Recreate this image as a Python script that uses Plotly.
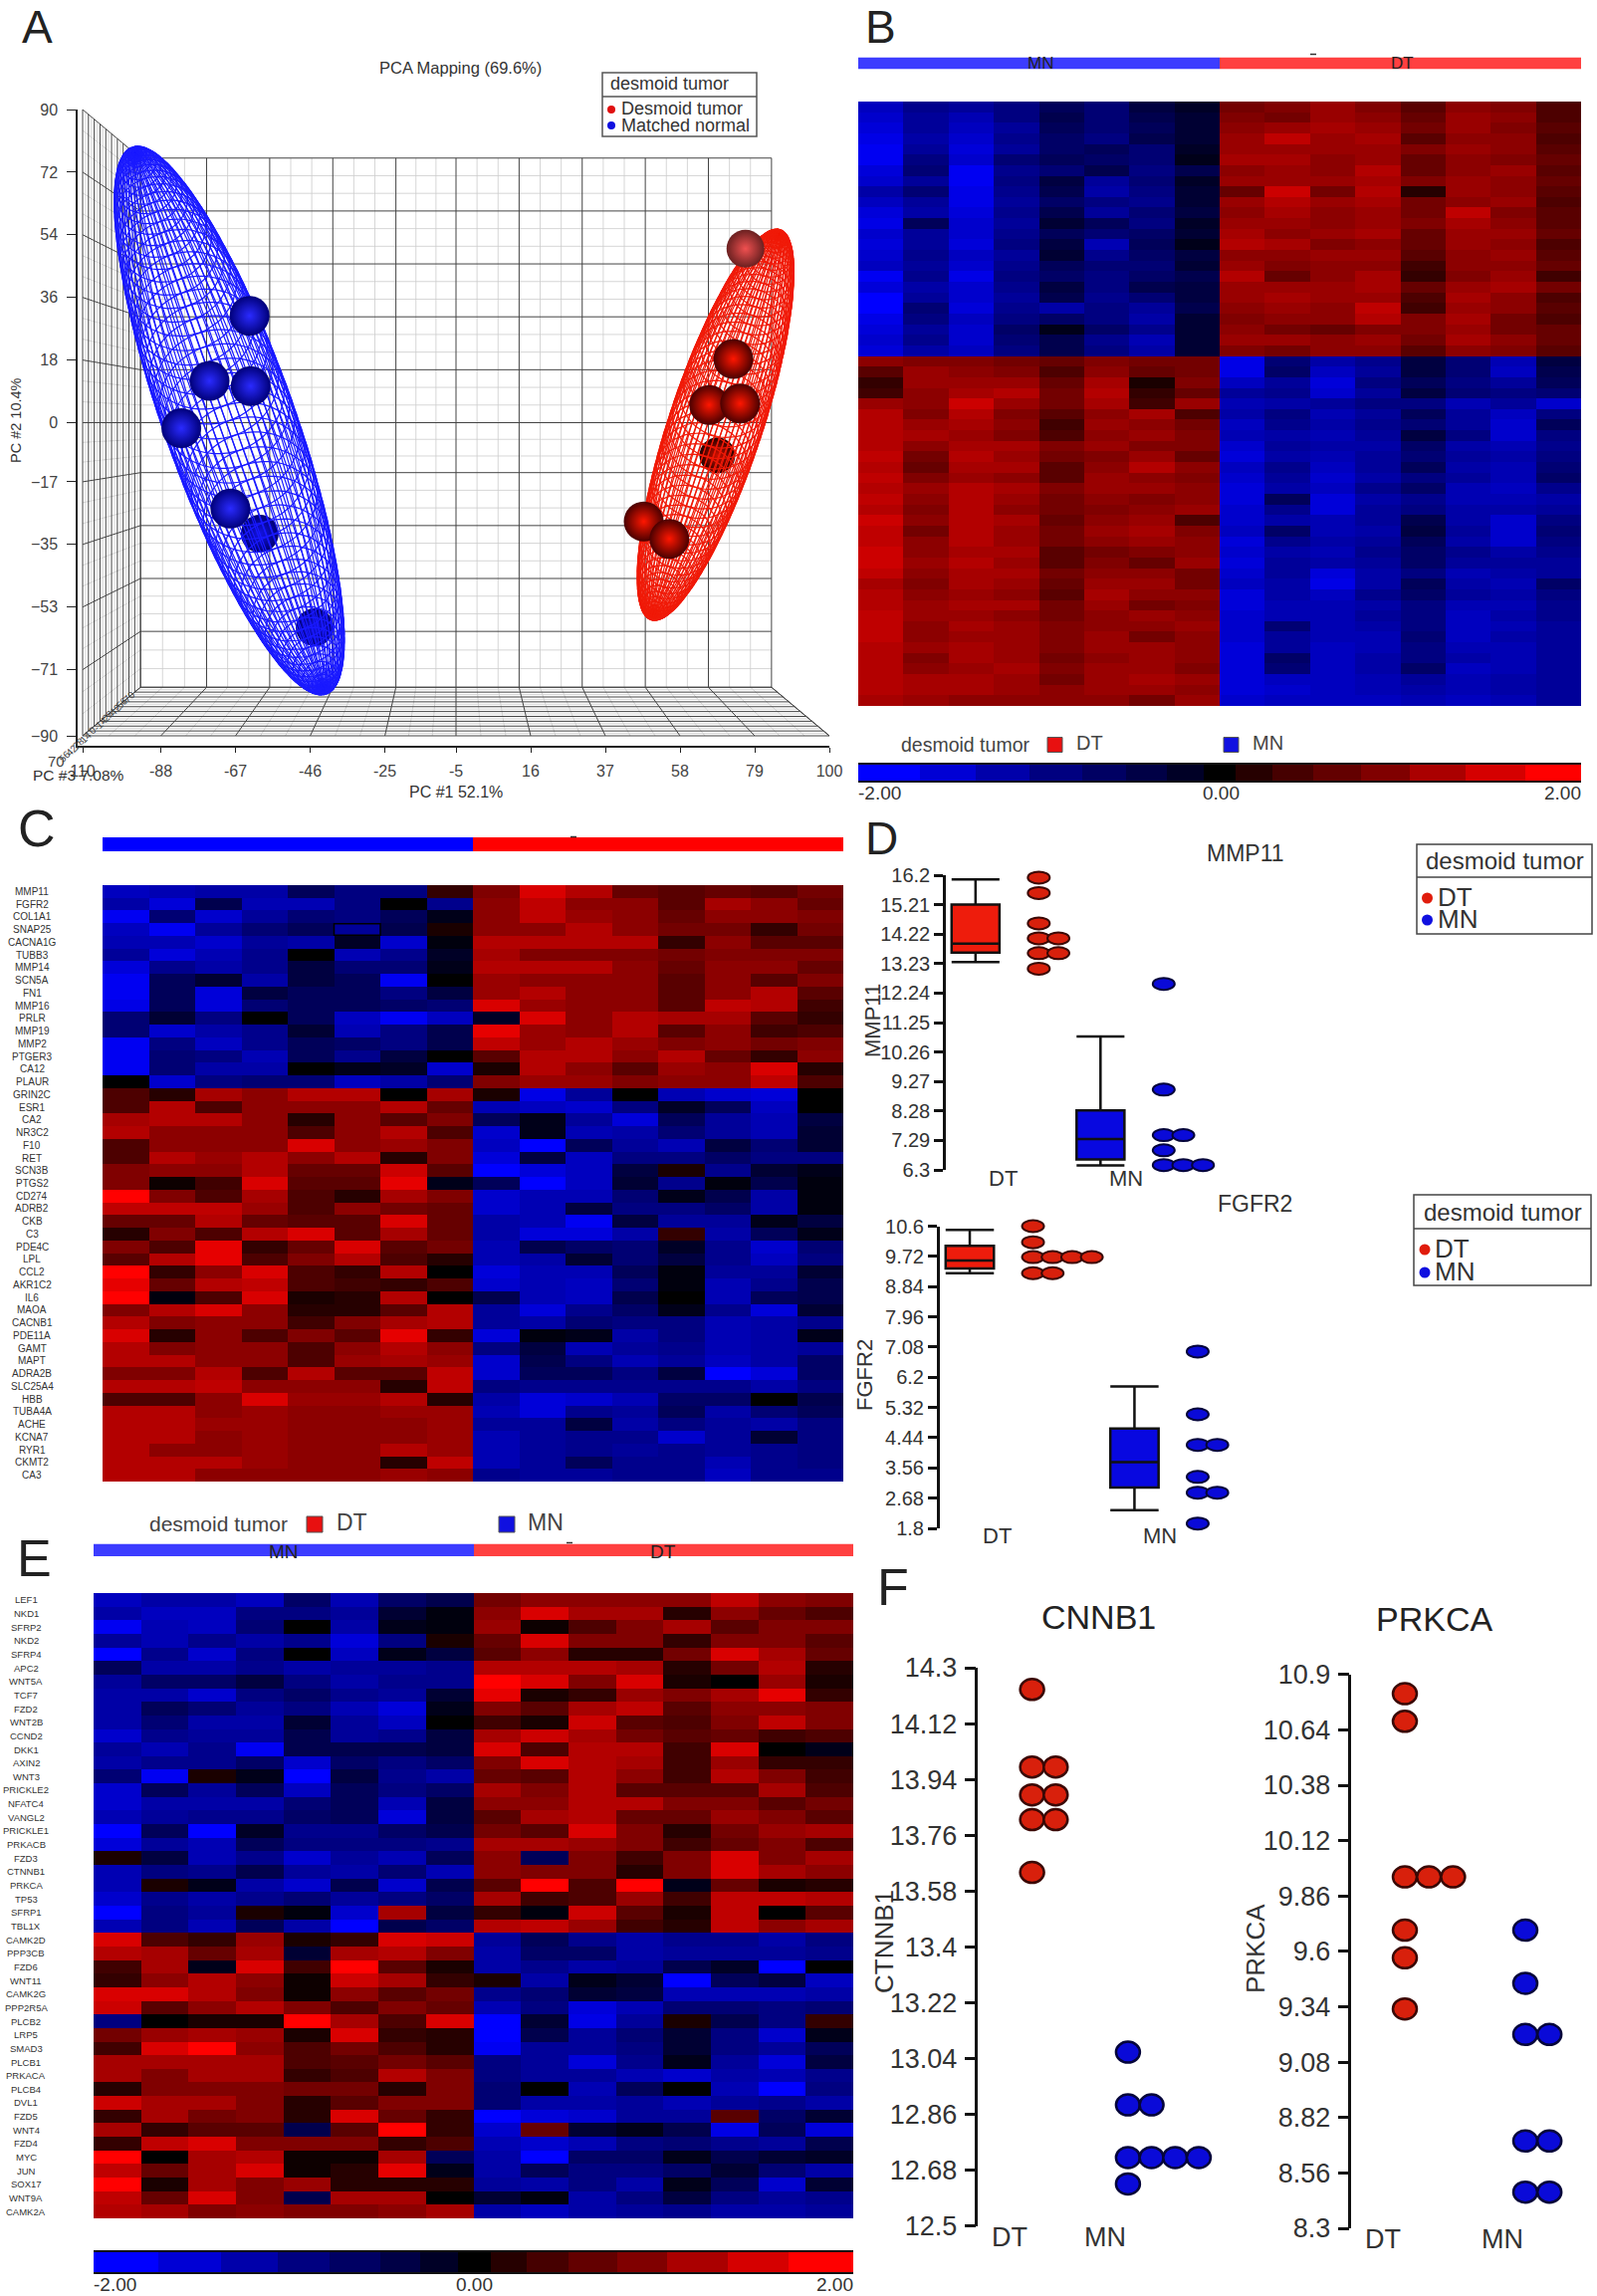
import math
import plotly.graph_objects as go

W, H = 1604, 2306
INK = "#333333"
FONT = "Liberation Sans, Arial, sans-serif"
HEAT = [[0, "rgb(0,0,255)"], [0.5, "rgb(0,0,0)"], [1, "rgb(255,0,0)"]]

# ---------- Panel A ----------
pca_x_ticks = [-110, -88, -67, -46, -25, -5, 16, 37, 58, 79, 100]
pca_y_ticks = [90, 72, 54, 36, 18, 0, -17, -35, -53, -71, -90]
pca_z_ticks = ["70", "56", "42", "28", "14", "0", "-14", "-28", "-42", "-56", "-70"]
blue_front_x = [-63.05, -74.3, -62.75, -82.25, -68.45]
blue_front_y = [30.7, 12.0, 10.5, -1.6, -24.7]
blue_back_x = [-60.2, -44.75]
blue_back_y = [-31.9, -58.8]
red_front_x = [73.0, 66.2, 74.9, 47.8, 55.0]
red_front_y = [18.3, 5.1, 5.5, -28.4, -33.4]
red_pale_x = [76.4]
red_pale_y = [50.0]
red_back_x = [68.5]
red_back_y = [-9.4]
blue_ellipsoid = dict(center=(-68.75, 0.6), major=(-26.6, 76.8), minor=18.5)
red_ellipsoid = dict(center=(68.0, -0.6), major=(17.7, 54.8), minor=13.2)

# ---------- Panel B ----------
b_rows_up = [
[-1.5,-1.1,-1.2,-1.0,-.7,-.9,-.5,-.3,.9,1.0,1.2,1.0,.7,1.1,1.0,.6],
[-1.6,-1.2,-1.4,-1.0,-.6,-.9,-.6,-.4,1.0,.9,1.2,1.1,.8,1.2,1.1,.6],
[-1.7,-1.2,-1.5,-1.2,-.7,-.9,-.7,-.4,1.1,1.2,1.3,1.2,.9,1.2,1.0,.7],
[-1.8,-1.3,-1.6,-1.1,-.8,-1.0,-.6,-.4,1.2,1.5,1.2,1.3,.7,1.1,1.1,.6],
[-1.9,-1.2,-1.7,-1.2,-.8,-.7,-.9,-.3,1.2,1.2,1.2,1.2,1.0,1.2,1.1,.7],
[-1.9,-1.0,-1.6,-.9,-.7,-.8,-.9,-.2,1.3,1.3,1.1,1.2,.8,1.1,1.0,.8],
[-1.7,-.9,-1.9,-1.1,-.9,-.6,-1.0,-.6,1.1,1.2,1.1,1.4,.8,1.1,1.2,.7],
[-1.6,-1.2,-1.9,-1.0,-.5,-1.2,-.9,-.3,1.2,1.2,1.2,1.3,1.0,1.2,1.1,.8],
[-1.3,-.9,-1.8,-1.1,-.6,-1.3,-1.0,-.4,.8,1.6,.9,1.4,.3,1.2,1.1,.7],
[-1.5,-1.2,-1.8,-1.2,-.8,-1.0,-1.1,-.4,1.2,1.4,1.2,1.3,.9,1.1,1.2,.6],
[-1.7,-1.3,-1.7,-1.1,-.6,-1.2,-.9,-.5,1.1,1.3,1.1,1.2,.9,1.5,1.0,.7],
[-1.8,-.7,-1.6,-1.2,-.4,-.7,-1.0,-.3,1.2,1.2,1.1,1.2,1.0,1.3,1.1,.7],
[-1.6,-1.2,-1.6,-1.1,-.7,-.9,-.8,-.4,1.3,1.1,1.2,1.3,.8,1.2,1.2,.8],
[-1.7,-1.2,-1.7,-1.0,-.5,-1.4,-.7,-.2,1.4,1.3,1.0,1.1,.8,1.2,1.1,.6],
[-1.6,-1.1,-1.5,-1.2,-.4,-1.1,-.8,-.5,1.1,1.1,1.2,1.2,.7,1.1,1.2,.7],
[-1.5,-1.2,-1.6,-1.1,-.7,-.9,-.9,-.4,1.2,1.0,1.1,1.1,.5,1.1,1.1,.8],
[-1.9,-1.1,-1.8,-1.0,-.8,-1.0,-.8,-.6,1.4,.8,1.1,1.3,.4,1.0,1.2,.5],
[-1.7,-1.3,-1.6,-1.1,-.5,-1.0,-.6,-.5,1.2,1.2,1.2,1.3,.8,1.2,1.3,.9],
[-2.0,-1.2,-1.6,-1.2,-.6,-1.1,-.9,-.5,1.2,1.3,1.2,1.2,.6,1.3,1.1,.6],
[-2.0,-.9,-1.7,-1.1,-1.3,-1.0,-1.2,-.6,1.1,1.2,1.1,1.5,.5,1.2,1.1,.7],
[-1.8,-1.0,-1.5,-1.0,-.8,-1.0,-1.3,-.4,1.0,1.1,1.1,1.4,1.0,1.3,.9,.6],
[-1.7,-1.2,-1.6,-.8,-.2,-.8,-1.1,-.4,1.1,.9,.8,1.0,1.0,1.2,.9,.8],
[-1.6,-1.1,-1.6,-.9,-.6,-1.1,-1.4,-.4,1.2,1.2,1.1,1.2,.9,1.3,1.1,.8],
[-1.7,-1.3,-1.5,-1.0,-.6,-1.0,-1.3,-.4,1.0,.9,1.1,1.1,.7,1.1,1.0,.7],
]
b_rows_down = [
[1.1,1.0,1.0,.9,.8,1.0,.9,.9,-1.8,-.9,-1.3,-1.1,-.5,-.9,-1.4,-.5],
[.7,1.2,1.1,1.0,.6,1.1,.8,.9,-1.8,-.8,-1.5,-1.2,-.5,-.9,-1.5,-.6],
[.4,1.2,1.2,1.2,.8,1.3,.2,1.0,-1.5,-1.2,-1.7,-1.0,-.7,-1.0,-1.2,-.7],
[.5,1.1,1.3,1.4,.9,1.4,.4,.8,-1.2,-1.1,-1.6,-1.2,-.5,-.9,-1.0,-.9],
[1.2,1.1,1.6,1.2,.9,1.3,.5,1.2,-1.4,-1.3,-1.2,-1.0,-1.0,-1.4,-1.2,-1.6],
[1.4,1.0,1.4,1.0,.7,1.1,1.3,.6,-1.3,-1.0,-1.4,-1.2,-.7,-1.2,-1.5,-1.0],
[1.4,1.2,1.3,1.1,.5,1.2,1.1,.9,-1.5,-1.1,-1.3,-1.1,-.9,-1.2,-1.6,-.7],
[1.4,1.3,1.2,1.0,.6,1.1,1.2,1.0,-1.4,-1.3,-1.4,-1.2,-.5,-1.0,-1.6,-1.0],
[1.4,1.1,1.3,1.3,1.0,1.2,1.0,1.0,-1.6,-1.2,-1.3,-1.3,-.8,-1.3,-1.4,-1.1],
[1.5,.9,1.4,1.2,.9,1.0,1.2,.8,-1.7,-1.3,-1.4,-1.2,-.9,-1.2,-1.3,-1.0],
[1.4,.8,1.3,1.3,.7,1.1,1.4,1.1,-1.5,-1.1,-1.5,-1.2,-.7,-1.3,-1.4,-.9],
[1.5,1.0,1.2,1.1,.7,1.2,1.1,1.0,-1.6,-1.2,-1.6,-1.3,-1.0,-1.2,-1.4,-.8],
[1.4,1.2,1.4,1.3,1.0,1.2,1.2,1.1,-1.7,-1.3,-1.5,-1.1,-.8,-1.4,-1.5,-1.1],
[1.5,1.1,1.4,1.2,.9,1.1,1.0,1.1,-1.7,-.7,-1.7,-1.3,-1.1,-1.4,-1.4,-1.3],
[1.4,1.0,1.4,1.1,.9,1.0,1.1,1.2,-1.6,-1.1,-1.7,-1.2,-1.0,-1.3,-1.3,-1.2],
[1.6,1.1,1.4,1.3,.8,1.1,1.2,.6,-1.6,-1.3,-1.4,-1.2,-.6,-1.3,-1.6,-1.0],
[1.5,.9,1.4,1.2,.9,1.2,1.3,1.0,-1.5,-.8,-1.4,-1.3,-.5,-1.2,-1.6,-.9],
[1.5,1.1,1.4,1.2,.9,1.1,1.2,1.1,-1.7,-1.1,-1.3,-1.2,-.7,-1.3,-1.6,-1.0],
[1.6,1.1,1.3,1.3,.7,.9,1.0,1.1,-1.6,-1.3,-1.4,-1.1,-.8,-1.1,-1.3,-1.1],
[1.6,1.2,1.4,1.2,.7,1.0,.8,1.2,-1.7,-1.2,-1.3,-1.2,-.8,-1.2,-1.2,-1.2],
[1.5,1.1,1.3,1.3,.9,1.1,1.1,.9,-1.6,-1.2,-1.7,-1.3,-1.0,-1.4,-1.3,-1.2],
[1.3,1.0,1.3,1.2,.8,1.2,1.2,.9,-1.5,-1.3,-1.8,-1.3,-.7,-1.3,-1.4,-.8],
[1.4,1.1,1.2,1.1,.7,1.3,1.1,1.1,-1.7,-1.3,-1.5,-1.1,-.8,-1.2,-1.3,-1.0],
[1.4,1.2,1.3,1.3,.9,1.2,.9,1.0,-1.7,-1.4,-1.4,-1.3,-1.0,-1.4,-1.4,-1.1],
[1.5,1.2,1.2,1.1,.9,1.1,1.2,1.1,-1.6,-1.4,-1.4,-1.2,-1.0,-1.5,-1.3,-1.1],
[1.5,1.1,1.3,1.2,1.0,1.1,1.1,1.2,-1.6,-.9,-1.4,-1.3,-1.0,-1.5,-1.4,-1.2],
[1.5,1.1,1.2,1.2,1.0,1.2,.9,1.1,-1.6,-1.2,-1.4,-1.4,-.9,-1.5,-1.3,-1.2],
[1.4,1.2,1.3,1.2,1.0,1.2,1.2,1.1,-1.7,-1.2,-1.5,-1.4,-1.0,-1.4,-1.4,-1.2],
[1.4,1.0,1.3,1.2,.9,1.1,1.2,1.1,-1.7,-.8,-1.5,-1.3,-1.0,-1.3,-1.4,-1.2],
[1.4,1.1,1.2,1.3,1.0,1.2,1.2,1.0,-1.7,-.9,-1.5,-1.3,-.8,-1.5,-1.4,-1.2],
[1.4,1.3,1.3,1.2,.9,1.2,1.3,1.2,-1.7,-1.5,-1.5,-1.4,-1.2,-1.4,-1.3,-1.2],
[1.4,1.3,1.3,1.2,1.1,1.2,1.2,1.1,-1.7,-1.6,-1.5,-1.4,-1.3,-1.4,-1.3,-1.2],
[1.3,1.2,1.1,1.1,1.1,1.1,.9,1.2,-1.6,-1.5,-1.5,-1.5,-1.4,-1.5,-1.4,-1.2],
]
sample_ids = ["MN1","MN2","MN3","MN4","MN5","MN6","MN7","MN8","DT1","DT2","DT3","DT4","DT5","DT6","DT7","DT8"]
group_labels = ["MN", "DT"]

# ---------- Panel C ----------
c_genes = ["MMP11","FGFR2","COL1A1","SNAP25","CACNA1G","TUBB3","MMP14","SCN5A","FN1","MMP16","PRLR","MMP19","MMP2","PTGER3","CA12","PLAUR",
"GRIN2C","ESR1","CA2","NR3C2","F10","RET","SCN3B","PTGS2","CD274","ADRB2","CKB","C3","PDE4C","LPL","CCL2","AKR1C2","IL6","MAOA","CACNB1",
"PDE11A","GAMT","MAPT","ADRA2B","SLC25A4","HBB","TUBA4A","ACHE","KCNA7","RYR1","CKMT2","CA3"]
c_values = [
[-1.5,-1.4,-1.3,-1.3,-.7,-1.0,-1.0,.4,1.0,1.7,1.4,.8,.7,.8,.7,.9],
[-1.3,-1.7,-.6,-1.4,-1.4,-1.0,0,-1.1,1.1,1.5,1.1,1.1,.7,1.3,1.1,.8],
[-1.9,-.9,-1.6,-1.2,-.9,-1.0,-.7,-.2,1.1,1.5,1.2,1.1,.8,1.1,1.1,1.0],
[-1.5,-1.9,-1.2,-.9,-.7,-1.2,-.6,.2,1.1,1.1,1.4,1.1,.9,.9,.4,.9],
[-1.4,-1.4,-1.6,-1.2,-1.3,-.3,-1.6,-.1,1.4,1.4,1.4,1.4,.4,1.1,.7,.7],
[-1.2,-1.7,-1.4,-1.1,0,-1.4,-1.1,-.3,1.3,1.0,1.0,1.0,.9,1.0,1.0,1.0],
[-1.7,-1.1,-1.3,-1.1,-.5,-.9,-.9,-.2,1.4,1.4,1.4,1.1,.8,1.1,1.1,.8],
[-1.9,-.7,-.4,-1.3,-.5,-.7,-1.9,0,1.2,1.1,1.1,1.1,.7,1.1,.7,1.0],
[-1.9,-.7,-1.7,-.5,-.7,-.7,-1.0,-.5,1.2,1.4,1.1,1.1,.7,1.1,1.4,.7],
[-1.8,-.7,-1.7,-.9,-.7,-.7,-.8,-.9,1.7,1.2,1.1,1.1,.7,1.5,1.4,.5],
[-.9,-.4,-1.0,0,-.7,-1.5,-1.9,-1.5,-.3,1.7,1.1,1.4,1.3,1.3,.7,.4],
[-.9,-1.6,-1.3,-1.1,-.4,-1.4,-1.0,-.6,1.8,1.2,1.1,1.4,.7,1.1,.5,.6],
[-1.9,-1.0,-1.5,-1.1,-.7,-.8,-1.0,-.6,1.5,1.2,1.4,1.2,1.0,1.1,.9,1.0],
[-1.9,-.9,-1.0,-1.4,-.7,-1.1,-.5,0,.7,1.4,1.4,1.1,1.4,.8,.4,1.1],
[-1.9,-.9,-1.3,-1.3,0,-.2,-.3,-1.6,.2,1.4,1.1,.7,1.2,1.1,1.7,.3],
[0,-1.6,-1.0,-.9,-.9,-1.5,-1.3,-.9,1.0,1.2,1.2,1.0,1.1,1.1,1.5,.6],
[.6,.3,1.3,1.1,1.4,1.4,0,1.3,.2,-1.8,-1.2,0,-1.4,-1.6,-1.7,0],
[.6,1.4,.6,1.1,1.1,1.1,1.4,.8,-1.4,-1.5,-1.6,-1.0,-.3,-.7,-1.5,0],
[1.3,1.4,1.4,1.1,.3,1.1,.7,1.0,-.7,-.2,-1.2,-1.7,-.7,-1.2,-1.4,-.5],
[1.4,1.1,1.1,1.1,.6,1.1,1.4,.6,-1.6,-.2,-1.4,-1.3,-.9,-1.2,-1.4,-.4],
[.6,1.1,1.1,1.1,1.7,1.1,1.2,1.0,-1.5,-2,-.7,-1.2,-1.4,-.5,-.9,-.4],
[.6,1.4,1.2,1.4,1.1,1.4,.3,1.0,-1.7,-.5,-1.5,-1.0,-1.0,-.8,-1.0,-1.0],
[1.0,1.1,1.1,1.4,.8,.8,1.6,.7,-2,-1.7,-1.5,-.5,.2,-1.1,-.4,-.2],
[1.0,.1,.5,1.7,.7,.7,1.8,-.2,-.7,-2,-1.5,-.4,-1.1,-.1,-.6,-.1],
[2,1.0,.6,1.3,.6,.3,1.3,1.0,-1.6,-1.4,-1.4,-.9,-.2,-.6,-1.3,-.1],
[1.5,1.5,1.5,1.2,.6,1.1,.9,.8,-1.6,-1.4,-.5,-1.0,-1.0,-.8,-1.3,-.1],
[.8,.8,1.4,.8,.7,.7,1.7,.8,-1.3,-1.4,-1.9,-.5,-1.2,-1.2,-.2,-.5],
[.3,1.0,.6,1.4,1.7,.7,1.3,.8,-1.3,-1.7,-1.7,-1.3,.4,-1.3,-.7,-.2],
[1.0,.6,1.8,.4,.8,1.7,.7,.9,-1.4,-.6,-.8,-.9,-.3,-1.1,-1.6,-.9],
[.7,1.4,1.8,.6,1.0,1.4,.6,.3,-1.4,-1.3,-.4,-.9,-.5,-1.1,-1.5,-1.0],
[2,.4,1.1,1.7,.6,.4,1.4,0,-1.7,-1.4,-1.4,-.7,-.1,-1.2,-1.2,-.4],
[1.8,.8,1.4,1.5,.6,.5,.4,.6,-1.6,-1.4,-1.5,-.9,-.1,-1.4,-1.1,-.6],
[2,-.1,.6,1.7,.2,.3,1.4,0,-.6,-1.4,-1.5,-.6,0,-1.4,-.7,-.6],
[1.0,1.4,1.7,1.1,.3,.3,.7,1.4,-1.2,-1.7,-1.1,-.8,-.2,-1.1,-1.7,-.4],
[1.4,1.0,1.1,1.1,.5,1.0,1.3,1.4,-1.2,-1.3,-.9,-1.0,-1.0,-1.4,-1.3,-1.1],
[1.7,.3,1.1,.6,1.0,.7,1.8,.4,-1.7,-.1,-.2,-1.3,-1.0,-1.4,-1.3,-.2],
[1.4,1.0,1.1,1.1,.6,1.1,1.4,1.1,-1.0,-.5,-1.4,-1.2,-1.1,-1.4,-1.3,-1.2],
[1.4,1.4,1.1,1.1,.6,1.2,1.3,1.2,-1.6,-.6,-1.0,-1.4,-1.2,-1.5,-1.3,-.8],
[1.0,1.0,1.4,.6,1.4,.7,.7,1.5,-1.6,-.7,-.7,-1.0,-.5,-2,-1.7,-.8],
[1.4,1.4,1.5,1.1,1.1,1.1,.3,1.5,-1.0,-1.1,-1.1,-1.1,-1.1,-1.1,-1.3,-1.0],
[.6,.6,1.1,1.7,1.2,1.2,1.4,.3,-1.3,-1.7,-1.6,-1.4,-.8,-.8,0,-.6],
[1.4,1.4,1.1,1.2,1.1,1.1,1.2,1.2,-1.4,-1.7,-1.1,-1.2,-.7,-1.3,-.9,-.7],
[1.4,1.4,1.2,1.2,1.1,1.1,1.1,1.2,-1.2,-1.2,-.5,-1.3,-1.0,-1.2,-1.3,-1.0],
[1.4,1.4,1.1,1.2,1.1,1.1,1.1,1.2,-1.4,-1.2,-1.1,-1.1,-1.6,-1.2,-.4,-1.0],
[1.4,1.1,1.1,1.2,1.1,1.1,1.4,1.2,-1.4,-1.2,-1.1,-1.2,-1.1,-1.2,-1.1,-1.0],
[1.4,1.4,1.4,1.2,1.1,1.1,.3,1.5,-1.4,-1.2,-.7,-1.1,-1.1,-1.4,-1.1,-1.0],
[1.4,1.4,1.1,1.1,1.1,1.1,1.2,1.1,-1.1,-1.2,-1.2,-1.1,-1.1,-1.5,-1.1,-1.1],
]

# ---------- Panel D ----------
mmp11_ticks = ["16.2","15.21","14.22","13.23","12.24","11.25","10.26","9.27","8.28","7.29","6.3"]
mmp11_dt = [16.12,15.6,14.58,14.08,14.08,13.58,13.58,13.06]
mmp11_mn = [12.55,9.0,7.47,7.47,6.96,6.46,6.46,6.46]
mmp11_box_dt = dict(lowerfence=13.28, q1=13.6, median=13.9, q3=15.21, upperfence=16.06)
mmp11_box_mn = dict(lowerfence=6.45, q1=6.65, median=7.34, q3=8.3, upperfence=10.78)
fgfr2_ticks = ["10.6","9.72","8.84","7.96","7.08","6.2","5.32","4.44","3.56","2.68","1.8"]
fgfr2_dt = [10.6,10.13,9.7,9.7,9.7,9.7,9.23,9.23]
fgfr2_mn = [6.95,5.12,4.23,4.23,3.3,2.84,2.84,1.94]
fgfr2_box_dt = dict(lowerfence=9.23, q1=9.37, median=9.6, q3=10.03, upperfence=10.49)
fgfr2_box_mn = dict(lowerfence=2.33, q1=2.99, median=3.73, q3=4.71, upperfence=5.93)

# ---------- Panel E ----------
e_genes = ["LEF1","NKD1","SFRP2","NKD2","SFRP4","APC2","WNT5A","TCF7","FZD2","WNT2B","CCND2","DKK1","AXIN2","WNT3","PRICKLE2","NFATC4","VANGL2",
"PRICKLE1","PRKACB","FZD3","CTNNB1","PRKCA","TP53","SFRP1","TBL1X","CAMK2D","PPP3CB","FZD6","WNT11","CAMK2G","PPP2R5A","PLCB2","LRP5","SMAD3",
"PLCB1","PRKACA","PLCB4","DVL1","FZD5","WNT4","FZD4","MYC","JUN","SOX17","WNT9A","CAMK2A"]
e_values = [
[-1.5,-1.3,-1.3,-1.5,-.8,-1.4,-.8,-.6,.9,1.1,1.1,1.1,1.1,1.5,1.1,1.0],
[-1.3,-1.5,-1.5,-1.0,-1.0,-1.2,-.4,-.1,1.1,1.7,1.3,1.3,.3,1.1,.8,.6],
[-1.9,-1.4,-1.5,-.9,0,-1.3,-.2,-.1,1.2,.1,.6,1.0,1.3,.7,1.0,1.0],
[-1.2,-1.4,-1.1,-1.3,-1.1,-1.7,-1.0,.2,.8,1.7,1.0,1.0,.4,1.0,1.0,.7],
[-2,-1.1,-1.6,-1.0,0,-1.5,-.2,-.5,.7,1.1,.3,.3,.9,1.7,1.3,.8],
[-.7,-1.3,-1.3,-1.1,-1.3,-1.2,-1.2,-1.1,1.4,1.4,1.4,1.3,.3,.9,1.4,.3],
[-1.2,-.8,-.8,-.5,-1.0,-1.3,-1.1,-1.1,2,1.7,1.0,1.7,.2,0,1.2,.2],
[-1.3,-1.3,-1.6,-1.0,-.8,-1.1,-1.2,-.4,1.8,.2,.4,1.2,1.0,1.3,1.8,.4],
[-1.3,-.7,-.9,-1.2,-1.0,-1.4,-1.7,-.2,1.0,.7,1.3,1.5,.7,1.1,1.1,1.0],
[-1.3,-.9,-1.3,-1.3,-.4,-1.2,-1.5,0,.5,.2,1.6,.7,.6,1.0,1.5,1.0],
[-1.6,-1.1,-1.2,-1.2,-.6,-1.2,-1.1,-.5,1.3,1.6,1.3,.9,.7,.8,.5,.6],
[-1.2,-1.4,-1.1,-1.9,-.6,-.6,-.6,-.5,1.7,.6,1.4,1.4,.5,1.7,0,-.2],
[-1.3,-1.1,-1.1,-.8,-1.6,-.8,-1.0,-.8,1.0,1.7,1.4,1.3,.5,1.2,.4,.4],
[-.9,-1.9,.2,-.2,-2,-.5,-1.1,-1.3,.8,.7,1.4,1.1,.5,1.4,1.0,.5],
[-1.6,-.7,-1.2,-.7,-1.5,-.7,-1.0,-.8,1.3,1.0,1.4,.7,.7,.7,1.3,.6],
[-1.6,-1.3,-1.3,-1.3,-.9,-.7,-1.4,-.5,1.1,1.1,1.4,1.4,1.0,1.0,.7,.9],
[-1.4,-1.2,-1.1,-1.1,-.8,-.7,-1.7,-.5,.7,1.3,1.4,.8,.8,1.2,1.0,.7],
[-2,-.7,-2,-.3,-1.1,-1.1,-.8,-.6,.9,.7,1.7,1.0,.3,.9,1.2,1.3],
[-1.7,-1.2,-1.4,-.7,-1.0,-1.0,-1.0,-1.1,1.3,1.3,1.2,1.0,.5,.8,1.0,.6],
[.2,-.5,-1.4,-1.1,-1.6,-1.2,-1.4,-.7,1.1,-.7,1.0,.5,1.0,1.7,1.0,1.3],
[-1.4,-1.0,-1.1,-.6,-1.2,-1.3,-.9,-1.4,1.1,1.0,1.0,.3,1.0,1.7,1.3,1.1],
[-1.4,.2,-.2,-1.3,-1.6,-.6,-1.6,-.6,.7,2,.6,2,-.2,.8,.2,.3],
[-1.6,-1.1,-1.3,-1.1,-.9,-1.2,-1.0,-.8,1.3,.5,.6,1.2,.5,1.5,1.5,1.4],
[-2,-1.0,-1.2,.2,-.1,-1.6,1.3,-.5,.4,-.1,1.6,.7,.2,1.5,0,.7],
[-1.4,-1.0,-1.4,-.7,-1.3,-2,-.6,-.8,1.4,1.5,1.2,.5,.3,1.5,1.1,1.3],
[1.7,.6,.4,1.2,.2,.4,1.7,1.6,-1.2,-.7,-1.1,-1.3,-1.1,-1.1,-1.3,-1.0],
[1.4,1.3,.8,1.3,-.4,1.3,1.4,1.0,-1.3,-.8,-.8,-1.3,-1.2,-1.2,-1.2,-1.1],
[.5,1.3,-.2,1.7,.5,2,.7,.2,-1.3,-1.1,-1.3,-1.2,-.6,-.3,-2,0],
[.4,1.1,1.4,1.1,.1,1.6,1.3,.4,.2,-1.3,-.2,-.4,-2,-.7,-.5,-1.5],
[1.7,1.7,1.4,1.0,.1,1.1,.7,.9,-1.1,-.9,-.4,-.5,-1.4,-1.4,-1.4,-1.3],
[1.6,.7,1.1,1.4,1.0,.6,1.0,.8,-1.4,-1.0,-1.7,-1.4,-.9,-.9,-1.0,-.9],
[-1,0,.2,.2,2,1.3,.6,1.7,-2,-.4,-1.8,-1.2,.2,-.6,-1.0,.4],
[.9,1.2,1.3,1.2,.2,1.7,.4,.3,-2,-.6,-1.2,-.9,-.4,-1.0,-1.6,-.2],
[.5,1.7,2,1.1,.6,.9,.6,.3,-1.9,-1.2,-1.2,-1.0,-.4,-1.0,-1.2,-.7],
[1.3,1.3,1.3,1.3,.6,.7,.9,.7,-1.0,-1.2,-1.7,-1.1,-.2,-1.2,-1.7,-.5],
[1.3,1.0,1.3,1.3,.4,.6,1.4,1.0,-1.0,-1.2,-1.2,-1.4,-1.6,-1.3,-1.4,-1.1],
[.3,1.0,1.0,1.0,.9,.9,.3,1.0,-.9,0,-1.4,-.7,0,-1.4,-2,-1.0],
[1.6,1.3,1.3,1.0,.3,.7,1.0,1.0,-.9,-1.3,-1.3,-1.2,-1.4,-1.2,-1.1,-1.3],
[.4,1.3,.9,1.0,.3,1.7,.8,.4,-2,-1.7,-1.6,-1.2,-1.2,.7,-.8,-.4],
[1.3,.4,.7,.7,-.6,.7,2,.4,-1.6,.8,-.4,-.2,-.6,-1.8,-.7,-1.7],
[.4,1.5,1.7,1.0,1.0,1.0,.4,.6,-1.4,-1.6,-1.4,-1.0,-.9,-1.1,-1.2,-.6],
[2,0,1.3,1.4,.1,.1,1.3,-.7,-1.3,-2,-.8,-.8,-.2,-.6,-.4,-.3],
[1.5,.8,1.3,1.7,.1,.3,1.8,-.2,-1.3,-.7,-1.0,-1.0,-.8,-.4,-.9,-1.3],
[2,.2,1.3,1.0,1.2,.3,.3,.3,-1.2,-1.3,-1.0,-1.3,-.2,-.7,-1.6,-.4],
[1.5,.8,1.7,1.0,-.6,1.3,1.3,0,-.4,-.1,-1.3,-1.0,-.5,-1.0,-1.2,-1.1],
[1.4,1.3,1.0,1.1,1.0,1.0,1.1,1.3,-1.3,-1.5,-1.3,-1.2,-1.1,-1.3,-1.3,-1.2],
]
band_edges_b = [-2,-1.66,-1.35,-1.05,-.76,-.52,-.29,-.09,.09,.29,.52,.78,1.05,1.36,1.69,2]
band_edges_e = [-2,-1.66,-1.33,-1.03,-.76,-.49,-.28,-.08,.09,.28,.5,.76,1.02,1.34,1.66,2]
band_levels = [-2,-1.67,-1.33,-1.0,-.78,-.55,-.3,0,.3,.55,.78,1.0,1.33,1.67,2]

# ---------- Panel F ----------
ctnnb1_ticks = ["14.3","14.12","13.94","13.76","13.58","13.4","13.22","13.04","12.86","12.68","12.5"]
ctnnb1_dt = [14.23,13.98,13.98,13.89,13.89,13.81,13.81,13.64]
ctnnb1_mn = [13.06,12.89,12.89,12.72,12.72,12.72,12.72,12.635]
prkca_ticks = ["10.9","10.64","10.38","10.12","9.86","9.6","9.34","9.08","8.82","8.56","8.3"]
prkca_dt = [10.81,10.68,9.95,9.95,9.95,9.7,9.57,9.33]
prkca_mn = [9.7,9.45,9.21,9.21,8.71,8.71,8.47,8.47]

# ---------- helpers ----------
traces, annotations, shapes, axes = [], [], [], {}
count = [0]


def px(x):
    return x / W


def py(y):
    return 1 - y / H


def add_axes(x0, x1, y0, y1, xkw=None, ykw=None):
    count[0] += 1
    n = count[0]
    suf = "" if n == 1 else str(n)
    axes["xaxis" + suf] = dict(domain=[px(x0), px(x1)], anchor="y" + suf, **(xkw or dict(visible=False)))
    axes["yaxis" + suf] = dict(domain=[py(y1), py(y0)], anchor="x" + suf, **(ykw or dict(visible=False)))
    return "x" + suf, "y" + suf


# full-canvas overlay axes: texts are placed on them so that they never push the plot margins
ox, oy = add_axes(0, W, 0, H, dict(visible=False, range=[0, W]), dict(visible=False, range=[H, 0]))
traces.append(go.Scatter(x=[0], y=[0], mode="markers", marker=dict(opacity=0, size=1), xaxis=ox, yaxis=oy,
                         showlegend=False, hoverinfo="skip"))


def txt(x, y, s, size, color=INK, angle=0, anchor="center"):
    annotations.append(dict(x=x, y=y, xref=ox, yref=oy, text=s, showarrow=False,
                            font=dict(size=size, color=color, family=FONT), textangle=angle,
                            xanchor=anchor, yanchor="middle", borderpad=0, borderwidth=0))


def rect(x0, y0, x1, y1, fill=None, line="#555555", lw=1.5):
    shapes.append(dict(type="rect", xref="paper", yref="paper", x0=px(x0), x1=px(x1), y0=py(y0), y1=py(y1),
                       fillcolor=fill or "rgba(0,0,0,0)", line=dict(color=line, width=lw)))


def hline(x0, y0, x1, y1, color="#555555", lw=1.5):
    shapes.append(dict(type="line", xref="paper", yref="paper", x0=px(x0), x1=px(x1), y0=py(y0), y1=py(y1),
                       line=dict(color=color, width=lw)))


def dot(x, y, r, fill):
    shapes.append(dict(type="circle", xref="paper", yref="paper", x0=px(x - r), x1=px(x + r), y0=py(y - r), y1=py(y + r),
                       fillcolor=fill, line=dict(width=0)))


# ---------- Panel A drawing ----------
xa, ya = add_axes(78, 833, 110, 749,
    dict(range=[-111.4, 100], tickmode="array", tickvals=pca_x_ticks, ticktext=[str(v).replace("-110", "110") for v in pca_x_ticks],
         showgrid=False, zeroline=False, showline=True, linecolor="#222", linewidth=1.5, ticks="outside", ticklen=5,
         tickcolor="#222", tickfont=dict(size=16, color="#444", family=FONT), ticklabelstandoff=5),
    dict(range=[-92.86, 90], tickmode="array", tickvals=pca_y_ticks, showgrid=False, zeroline=False, showline=True,
         linecolor="#222", linewidth=1.5, ticks="outside", ticklen=9, tickcolor="#222",
         tickfont=dict(size=16, color="#444", family=FONT), ticklabelstandoff=6))

S_BACK = 0.845
XC = -5


def proj(x, y, z):
    s = 1 - (1 - S_BACK) * z
    return XC + (x - XC) * s, y * s


def segs(lines):
    xs, ys = [], []
    for (p, q) in lines:
        a, b = proj(*p), proj(*q)
        xs += [a[0], b[0], None]
        ys += [a[1], b[1], None]
    return xs, ys


def between(ticks, n):
    out = []
    for a, b in zip(ticks[:-1], ticks[1:]):
        for k in range(1, n):
            out.append(a + (b - a) * k / n)
    return out


XL, XR, YT, YB = -110, 100, 90, -90
zmaj = [i / 10 for i in range(11)]
zmin = between(zmaj, 2)
xmin, ymin = between(pca_x_ticks, 3), between(pca_y_ticks, 3)
minor, major = [], []
for x in xmin:
    minor += [((x, YB, 1), (x, YT, 1)), ((x, YB, 0), (x, YB, 1))]
for y in ymin:
    minor += [((XL, y, 1), (XR, y, 1)), ((XL, y, 0), (XL, y, 1))]
for z in zmin:
    minor += [((XL, YB, z), (XL, YT, z)), ((XL, YB, z), (XR, YB, z))]
for x in pca_x_ticks:
    major += [((x, YB, 1), (x, YT, 1)), ((x, YB, 0), (x, YB, 1))]
for y in pca_y_ticks:
    major += [((XL, y, 1), (XR, y, 1)), ((XL, y, 0), (XL, y, 1))]
for z in zmaj:
    major += [((XL, YB, z), (XL, YT, z)), ((XL, YB, z), (XR, YB, z))]
major.append(((XR, YB, 0), (XR, YB, 1)))
for col, width, lines in (("#cccccc", 0.8, minor), ("#444444", 1.0, major)):
    xs, ys = segs(lines)
    traces.append(go.Scatter(x=xs, y=ys, mode="lines", line=dict(color=col, width=width), hoverinfo="skip",
                             xaxis=xa, yaxis=ya, showlegend=False, connectgaps=False))


def wire(e, nu, nv, shear=0.22):
    cx, cy = e["center"]
    mx, my = e["major"]
    L = math.hypot(mx, my)
    px_, py_ = -my / L * e["minor"], mx / L * e["minor"]
    xs, ys = [], []

    def pt(u, v):
        su, cu = math.sin(u), math.cos(u)
        sv, cv = math.sin(v), math.cos(v)
        a = cu + shear * su * sv
        b = su * cv
        return cx + mx * a + px_ * b, cy + my * a + py_ * b

    for i in range(1, nu):
        u = math.pi * i / nu
        for j in range(nv + 1):
            p = pt(u, 2 * math.pi * j / nv)
            xs.append(p[0]); ys.append(p[1])
        xs.append(None); ys.append(None)
    for j in range(nv):
        v = 2 * math.pi * j / nv
        for i in range(nu + 1):
            p = pt(math.pi * i / nu, v)
            xs.append(p[0]); ys.append(p[1])
        xs.append(None); ys.append(None)
    return xs, ys


def spheres(x, y, edge, center, size, op=1.0):
    # for a radial gradient, gradient.color is the colour at the centre of the marker
    traces.append(go.Scatter(x=x, y=y, mode="markers", xaxis=xa, yaxis=ya, showlegend=False, opacity=op,
                             marker=dict(size=size, color=edge, gradient=dict(type="radial", color=center), line=dict(width=0))))


spheres(blue_back_x, blue_back_y, "#000070", "#1414e8", 38)
spheres(red_back_x, red_back_y, "#200000", "#cc1000", 36)
for e, col, nu, nv in ((blue_ellipsoid, "#1a1aff", 58, 54), (red_ellipsoid, "#f01a08", 58, 54)):
    xs, ys = wire(e, nu, nv)
    traces.append(go.Scatter(x=xs, y=ys, mode="lines", line=dict(color=col, width=1.2), hoverinfo="skip",
                             xaxis=xa, yaxis=ya, showlegend=False))
spheres(blue_front_x, blue_front_y, "#00007a", "#2a2aff", 40)
spheres(red_front_x, red_front_y, "#4a0000", "#ff1600", 40)
spheres(red_pale_x, red_pale_y, "#6a2020", "#f05050", 38)

txt(462, 68, "PCA Mapping (69.6%)", 16.5)
txt(16, 422, "PC #2 10.4%", 14.5, angle=-90)
txt(458, 795, "PC #1 52.1%", 16)
txt(79, 778, "PC #3 7.08%", 15.5)
for i, label in enumerate(pca_z_ticks):
    txt(58 + 7 * i if i else 56, 766 - 6.5 * i if i else 764, label, 10 if i else 15, color="#444", angle=-45 if i else 0)
rect(605, 73, 760, 137)
hline(605, 97, 760, 97)
txt(672, 84, "desmoid tumor", 18)
txt(624, 109, "Desmoid tumor", 18, anchor="left")
txt(624, 125.5, "Matched normal", 18, anchor="left")
dot(614, 110, 4, "#e01010")
dot(614, 126, 4, "#1010e0")
txt(37, 27, "A", 46, color="#222")


# ---------- heatmaps ----------
def heat(x0, x1, y0, y1, z, ynames):
    xn, yn = add_axes(x0, x1, y0, y1,
                      dict(visible=False, type="category", range=[-0.5, 15.5]),
                      dict(visible=False, type="category", range=[len(z) - 0.5, -0.5]))
    traces.append(go.Heatmap(z=z, x=sample_ids, y=ynames, colorscale=HEAT, zmin=-2, zmax=2, showscale=False,
                             xaxis=xn, yaxis=yn, hoverinfo="skip"))
    return xn, yn


def group_bar(x0, x1, y0, y1, left, right):
    xn, yn = add_axes(x0, x1, y0, y1,
                      dict(visible=False, type="category", range=[-0.5, 1.5]),
                      dict(visible=False, range=[-0.5, 0.5]))
    traces.append(go.Heatmap(z=[[0, 1]], x=group_labels, y=[0], colorscale=[[0, left], [1, right]], showscale=False,
                             xaxis=xn, yaxis=yn, hoverinfo="skip"))


def scale_bar(x0, x1, y0, y1, edges):
    xn, yn = add_axes(x0, x1, y0, y1, dict(visible=False, range=[-2, 2]), dict(visible=False, range=[0, 1]))
    traces.append(go.Heatmap(z=[band_levels], x=edges, y=[0, 1], colorscale=HEAT, zmin=-2, zmax=2, showscale=False,
                             xaxis=xn, yaxis=yn, hoverinfo="skip"))
    hline(x0, y0, x1, y0, "#111", 2)
    hline(x0, y1, x1, y1, "#111", 2)


# B
b_values = b_rows_up + b_rows_down
heat(862, 1588, 102, 709, b_values, [str(i) for i in range(len(b_values))])
group_bar(862, 1588, 57.5, 69.5, "#3c3cff", "#ff4040")
txt(1045, 63, "MN", 17, color="#222")
txt(1408, 63, "DT", 17, color="#222")
hline(1316, 54.5, 1322, 54.5, "#333", 1.5)
scale_bar(862, 1588, 767, 785, band_edges_b)
txt(862, 796, "-2.00", 19, anchor="left")
txt(1226, 796, "0.00", 19)
txt(1588, 796, "2.00", 19, anchor="right")
txt(969, 748, "desmoid tumor", 19.5, color="#444")
rect(1052, 740.5, 1067, 755.5, "#e81010", "#555", 1)
txt(1094, 746, "DT", 20, color="#444")
rect(1229, 740.5, 1244, 755.5, "#1010e0", "#555", 1)
txt(1273, 746, "MN", 20, color="#444")
txt(884, 27, "B", 46, color="#222")

# C
C_TOP, C_BOT = 889, 1488
cx, cy = heat(103, 847, C_TOP, C_BOT, c_values, c_genes)
group_bar(103, 847, 841, 855, "#0000ff", "#ff0000")
hline(573, 840.5, 579, 840.5, "#333", 1.5)
for i, g in enumerate(c_genes):
    txt(32, C_TOP + (i + 0.5) * (C_BOT - C_TOP) / len(c_genes), g, 10)
shapes.append(dict(type="rect", xref=cx, yref=cy, x0=4.5, x1=5.5, y0=2.55, y1=3.45, line=dict(color="#000", width=1.5)))
txt(37, 832, "C", 52, color="#222")

# E
E_TOP, E_BOT = 1600, 2228
ex, ey = heat(94, 857, E_TOP, E_BOT, e_values, e_genes)
group_bar(94, 857, 1550.5, 1563, "#3c3cff", "#ff4040")
txt(285, 1558, "MN", 19, color="#222")
txt(666, 1558, "DT", 19, color="#222")
hline(569, 1549.5, 575, 1549.5, "#333", 1.5)
for i, g in enumerate(e_genes):
    txt(26, E_TOP + (i + 0.5) * (E_BOT - E_TOP) / len(e_genes), g, 9.5)
scale_bar(94, 857, 2261, 2283, band_edges_e)
txt(94, 2294, "-2.00", 19, anchor="left")
txt(476, 2294, "0.00", 19)
txt(857, 2294, "2.00", 19, anchor="right")
txt(219, 1530, "desmoid tumor", 21, color="#444")
rect(308, 1523, 324, 1539, "#e81010", "#555", 1)
txt(353.5, 1529, "DT", 23, color="#444")
rect(501, 1523, 517, 1539, "#1010e0", "#555", 1)
txt(548, 1529, "MN", 23, color="#444")
txt(34, 1565, "E", 52, color="#222")


# ---------- dot/box charts ----------
RED, BLUE = "#d8200c", "#0a0ad8"


def swarm(values, base, step):
    seen, out = {}, []
    for v in values:
        k = seen.get(v, 0)
        out.append(base + k * step)
        seen[v] = k + 1
    return out


def dot_chart(x0, x1, y0, y1, xrange, ticks, dt, mn, offset, step, rx_px, ry_px, fsize, ticklen, standoff, edge_w):
    lo, hi = float(ticks[-1]), float(ticks[0])
    xn, yn = add_axes(x0, x1, y0, y1,
                      dict(visible=False, range=xrange),
                      dict(range=[lo, hi], tickmode="array", tickvals=[float(t) for t in ticks], ticktext=ticks,
                           showgrid=False, zeroline=False, showline=True, linecolor="#111", linewidth=2.5,
                           ticks="outside", ticklen=ticklen, tickwidth=2.5, tickcolor="#111",
                           tickfont=dict(size=fsize, color=INK, family=FONT), ticklabelstandoff=standoff))
    upp = (hi - lo) / (y1 - y0)
    pad = 20
    xo, yo = add_axes(x0, x1, y0 - pad, y1 + pad,
                      dict(visible=False, range=xrange),
                      dict(visible=False, range=[lo - pad * upp, hi + pad * upp]))
    rx = rx_px * (xrange[1] - xrange[0]) / (x1 - x0)
    ry = ry_px * upp
    for vals, base, col, dark, nm in ((dt, offset, RED, "#3a0805", "DT"), (mn, 1 + offset, BLUE, "#05053a", "MN")):
        xs = swarm(vals, base, step)
        traces.append(go.Scatter(x=xs, y=vals, mode="markers", name=nm, showlegend=False, xaxis=xn, yaxis=yn,
                                 cliponaxis=False, marker=dict(size=2 * ry_px, color=col, line=dict(width=0))))
        for a, b in zip(xs, vals):
            shapes.append(dict(type="circle", xref=xo, yref=yo, x0=a - rx, x1=a + rx, y0=b - ry, y1=b + ry,
                               fillcolor=col, line=dict(color=dark, width=edge_w)))
    traces.append(go.Scatter(x=[xrange[0]], y=[lo], mode="markers", marker=dict(opacity=0, size=1), xaxis=xo, yaxis=yo,
                             showlegend=False, hoverinfo="skip"))
    return xn, yn


def add_box(xn, yn, pos, stats, width, fill):
    traces.append(go.Box(x=[pos], q1=[stats["q1"]], median=[stats["median"]], q3=[stats["q3"]],
                         lowerfence=[stats["lowerfence"]], upperfence=[stats["upperfence"]],
                         width=width, fillcolor=fill, line=dict(color="#111", width=2.5), whiskerwidth=1,
                         boxpoints=False, orientation="v", xaxis=xn, yaxis=yn, showlegend=False, hoverinfo="skip"))


# D
xn, yn = dot_chart(950, 1240, 879, 1175, [-0.2375, 2.073], mmp11_ticks, mmp11_dt, mmp11_mn, 0.506, 0.157, 11, 6, 20, 9, 0, 2)
add_box(xn, yn, 0, mmp11_box_dt, 0.383, "#ee1c0c")
add_box(xn, yn, 1, mmp11_box_mn, 0.383, "#0808e0")
xn, yn = dot_chart(943.75, 1240, 1231.5, 1535, [-0.183, 1.608], fgfr2_ticks, fgfr2_dt, fgfr2_mn, 0.384, 0.119, 11, 6, 20, 9, 0, 2)
add_box(xn, yn, 0, fgfr2_box_dt, 0.293, "#ee1c0c")
add_box(xn, yn, 1, fgfr2_box_mn, 0.293, "#0808e0")
txt(1007, 1183, "DT", 22)
txt(1131, 1183, "MN", 22)
txt(1001, 1542, "DT", 22)
txt(1165, 1542, "MN", 22)
txt(1251, 857, "MMP11", 23)
txt(1260, 1209, "FGFR2", 23)
txt(876, 1025, "MMP11", 22, angle=-90)
txt(868, 1381, "FGFR2", 22, angle=-90)
for bx0, bx1, by0, by1, div, tx, y1_, y2_, ddx in ((1423, 1599, 848, 938, 881, 1444, 901, 923, 1433.5),
                                                   (1420, 1598, 1200, 1291, 1234, 1441, 1254, 1277, 1431)):
    rect(bx0, by0, bx1, by1, None, "#444", 1.5)
    hline(bx0, div, bx1, div, "#444", 1.5)
    txt((bx0 + bx1) / 2, (by0 + div) / 2, "desmoid tumor", 24)
    txt(tx, y1_, "DT", 26, anchor="left")
    txt(tx, y2_, "MN", 26, anchor="left")
    dot(ddx, y1_ + 1, 5.5, "#e01c0c")
    dot(ddx, y2_ + 1, 5.5, "#1010e0")
txt(885, 842, "D", 46, color="#222")

# F
dot_chart(982.4, 1260, 1675, 2235.5, [-0.563, 2.32], ctnnb1_ticks, ctnnb1_dt, ctnnb1_mn, 0, 0.246, 12, 10.5, 27, 11, 2, 2.5)
dot_chart(1357.4, 1600, 1681.8, 2238, [-0.443, 1.562], prkca_ticks, prkca_dt, prkca_mn, 0, 0.2, 12, 10.5, 27, 11, 2, 2.5)
txt(1103.5, 1624, "CNNB1", 34, color="#222")
txt(1440, 1626, "PRKCA", 34, color="#222")
txt(888, 1950, "CTNNB1", 26, angle=-90)
txt(1261, 1957, "PRKCA", 26, angle=-90)
txt(1014, 2247, "DT", 27)
txt(1110, 2247, "MN", 27)
txt(1389, 2249, "DT", 27)
txt(1509, 2249, "MN", 27)
txt(897, 1594, "F", 52, color="#222")

fig = go.Figure(traces)
fig.update_layout(width=W, height=H, margin=dict(l=0, r=0, t=0, b=0, pad=0, autoexpand=False), paper_bgcolor="white",
                  plot_bgcolor="rgba(0,0,0,0)", showlegend=False, annotations=annotations, shapes=shapes,
                  font=dict(family=FONT), **axes)
fig.write_html("out.html", config=dict(displayModeBar=False),
               post_script="document.body.style.margin='0';document.documentElement.style.overflow='hidden';")
